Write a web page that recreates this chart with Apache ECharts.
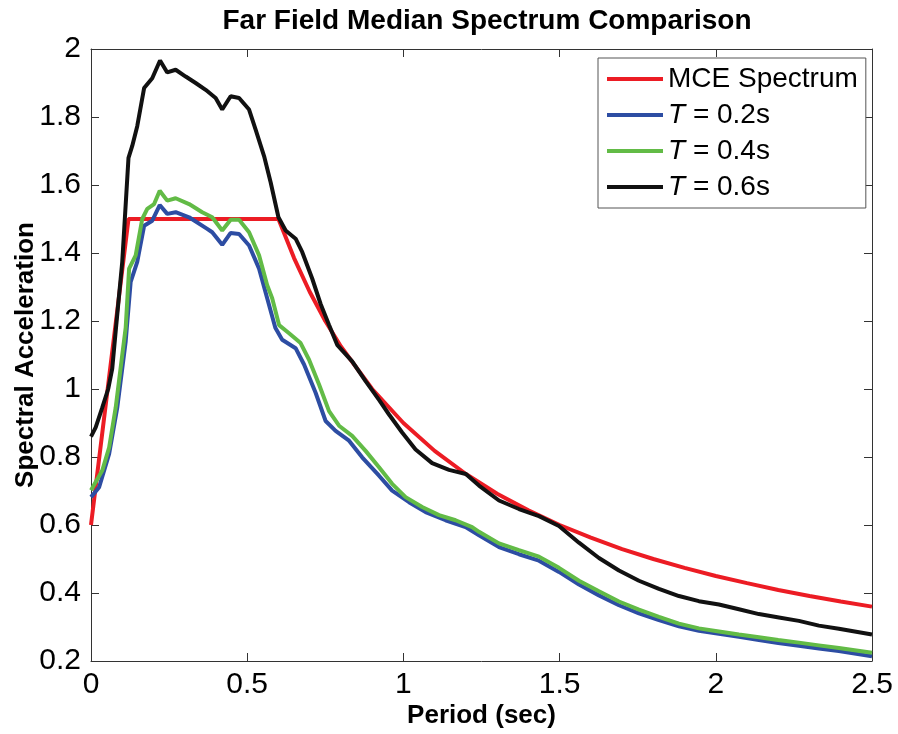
<!DOCTYPE html>
<html>
<head>
<meta charset="utf-8">
<script src="https://cdn.jsdelivr.net/npm/echarts@6/dist/echarts.min.js"></script>
<style>html,body{margin:0;padding:0;background:#fff}#c{width:898px;height:734px}</style>
</head>
<body>
<div id="c"></div>
<script>
var seriesNames = ['MCE Spectrum', 'T = 0.2s', 'T = 0.4s', 'T = 0.6s'];
var xTicks = [0, 0.5, 1, 1.5, 2, 2.5];
var yTicks = [0.2, 0.4, 0.6, 0.8, 1, 1.2, 1.4, 1.6, 1.8, 2];

var mcePeriods = [0, 0.12, 0.6, 0.65, 0.7, 0.75, 0.8, 0.9, 1.0, 1.1, 1.2, 1.3, 1.4, 1.5, 1.6, 1.7, 1.8, 1.9, 2.0, 2.1, 2.2, 2.3, 2.4, 2.5];
var mceValues  = [0.6, 1.5, 1.5, 1.385, 1.286, 1.2, 1.125, 1.0, 0.9, 0.818, 0.75, 0.692, 0.643, 0.6, 0.563, 0.529, 0.5, 0.474, 0.45, 0.429, 0.409, 0.391, 0.375, 0.36];

var t02Periods = [0, 0.026, 0.058, 0.084, 0.111, 0.127, 0.148, 0.17, 0.196, 0.22, 0.244, 0.271, 0.314, 0.372, 0.388, 0.42, 0.447, 0.474, 0.506, 0.538, 0.564, 0.59, 0.612, 0.655, 0.682, 0.719, 0.751, 0.783, 0.826, 0.868, 0.922, 0.964, 1.018, 1.071, 1.135, 1.199, 1.242, 1.306, 1.37, 1.434, 1.498, 1.562, 1.626, 1.69, 1.754, 1.818, 1.882, 1.946, 2.01, 2.074, 2.138, 2.2, 2.266, 2.33, 2.394, 2.5];
var t02Values  = [0.682, 0.711, 0.809, 0.945, 1.14, 1.315, 1.374, 1.48, 1.495, 1.541, 1.515, 1.52, 1.505, 1.471, 1.461, 1.424, 1.459, 1.456, 1.422, 1.354, 1.267, 1.18, 1.145, 1.12, 1.072, 0.989, 0.906, 0.877, 0.848, 0.799, 0.745, 0.701, 0.667, 0.638, 0.614, 0.594, 0.57, 0.535, 0.514, 0.495, 0.462, 0.425, 0.393, 0.364, 0.34, 0.32, 0.302, 0.289, 0.28, 0.271, 0.262, 0.253, 0.245, 0.237, 0.229, 0.214];

var t04Periods = [0, 0.036, 0.058, 0.079, 0.1, 0.111, 0.122, 0.143, 0.164, 0.18, 0.202, 0.22, 0.244, 0.271, 0.314, 0.356, 0.388, 0.42, 0.447, 0.474, 0.506, 0.538, 0.564, 0.58, 0.602, 0.634, 0.671, 0.698, 0.73, 0.762, 0.794, 0.836, 0.879, 0.922, 0.964, 1.007, 1.06, 1.114, 1.167, 1.22, 1.242, 1.306, 1.37, 1.434, 1.498, 1.562, 1.626, 1.69, 1.754, 1.818, 1.882, 1.946, 2.01, 2.074, 2.138, 2.2, 2.266, 2.33, 2.394, 2.5];
var t04Values  = [0.702, 0.76, 0.828, 0.945, 1.1, 1.18, 1.354, 1.393, 1.5, 1.53, 1.544, 1.583, 1.554, 1.561, 1.544, 1.52, 1.505, 1.466, 1.498, 1.498, 1.461, 1.393, 1.305, 1.267, 1.188, 1.164, 1.135, 1.086, 1.013, 0.935, 0.892, 0.862, 0.818, 0.77, 0.721, 0.682, 0.653, 0.629, 0.614, 0.594, 0.58, 0.546, 0.526, 0.507, 0.474, 0.436, 0.405, 0.375, 0.351, 0.33, 0.31, 0.296, 0.287, 0.278, 0.27, 0.262, 0.254, 0.246, 0.238, 0.224];

var t06Periods = [0, 0.015, 0.036, 0.055, 0.068, 0.08, 0.1, 0.12, 0.132, 0.148, 0.17, 0.196, 0.221, 0.244, 0.271, 0.303, 0.335, 0.367, 0.399, 0.42, 0.447, 0.474, 0.506, 0.527, 0.554, 0.575, 0.6, 0.623, 0.655, 0.676, 0.708, 0.735, 0.762, 0.788, 0.836, 0.879, 0.922, 0.954, 0.996, 1.039, 1.092, 1.146, 1.2, 1.242, 1.306, 1.37, 1.434, 1.498, 1.562, 1.626, 1.69, 1.754, 1.818, 1.882, 1.946, 2.01, 2.074, 2.138, 2.202, 2.266, 2.33, 2.394, 2.5];
var t06Values  = [0.86, 0.887, 0.945, 1.0, 1.06, 1.18, 1.374, 1.68, 1.715, 1.773, 1.885, 1.914, 1.966, 1.931, 1.939, 1.919, 1.9, 1.88, 1.856, 1.822, 1.861, 1.856, 1.822, 1.763, 1.685, 1.608, 1.505, 1.466, 1.442, 1.403, 1.325, 1.25, 1.188, 1.13, 1.081, 1.023, 0.968, 0.925, 0.872, 0.822, 0.782, 0.762, 0.75, 0.716, 0.672, 0.647, 0.626, 0.597, 0.548, 0.503, 0.466, 0.436, 0.412, 0.391, 0.376, 0.366, 0.352, 0.338, 0.328, 0.318, 0.304, 0.295, 0.278];

var colors = ['#ec1c24', '#2d4da3', '#62bb46', '#111111'];

function zip(xs, ys) { return xs.map(function (x, i) { return [x, ys[i]]; }); }
var allData = [zip(mcePeriods, mceValues), zip(t02Periods, t02Values), zip(t04Periods, t04Values), zip(t06Periods, t06Values)];

var FONT = '"Liberation Sans", Arial, Helvetica, sans-serif';
var chart = echarts.init(document.getElementById('c'), null, { renderer: 'canvas' });

var axisLineStyle = { color: '#333', width: 1 };
function xAxisDef(pos, showLabel) {
  return {
    type: 'value', position: pos, min: 0, max: 2.5, interval: 0.5,
    axisLine: { show: true, onZero: false, lineStyle: axisLineStyle },
    axisTick: { show: true, inside: true, length: 8, lineStyle: axisLineStyle },
    axisLabel: { show: showLabel, color: '#000', fontSize: 30, fontFamily: FONT, margin: 9 },
    splitLine: { show: false },
    name: showLabel ? 'Period (sec)' : '', nameLocation: 'middle', nameGap: 42,
    nameMoveOverlap: false,
    nameTextStyle: { color: '#000', fontSize: 26, fontWeight: 'bold', fontFamily: FONT }
  };
}
function yAxisDef(pos, showLabel) {
  return {
    type: 'value', position: pos, min: 0.2, max: 2, interval: 0.2,
    axisLine: { show: true, onZero: false, lineStyle: axisLineStyle },
    axisTick: { show: true, inside: true, length: 8, lineStyle: axisLineStyle },
    axisLabel: { show: showLabel, color: '#000', fontSize: 30, fontFamily: FONT, margin: 10 },
    splitLine: { show: false },
    name: showLabel ? 'Spectral Acceleration' : '', nameLocation: 'middle', nameGap: 52,
    nameMoveOverlap: false,
    nameTextStyle: { color: '#000', fontSize: 26, fontWeight: 'bold', fontFamily: FONT }
  };
}

var option = {
  animation: false,
  backgroundColor: '#fff',
  title: {
    text: 'Far Field Median Spectrum Comparison',
    left: 482, top: 2, textAlign: 'center',
    textStyle: { color: '#000', fontSize: 28, fontWeight: 'bold', fontFamily: FONT }
  },
  grid: { left: 91, right: 26, top: 49, bottom: 69, containLabel: false },
  xAxis: [xAxisDef('bottom', true), xAxisDef('top', false)],
  yAxis: [yAxisDef('left', true), yAxisDef('right', false)],
  legend: {
    orient: 'vertical', left: 598, top: 58,
    backgroundColor: '#fff', borderColor: '#555', borderWidth: 1,
    padding: [7, 8, 7, 9], itemGap: 8, itemWidth: 56, itemHeight: 4, icon: 'rect',
    data: seriesNames,
    formatter: function (name) {
      return name.charAt(0) === 'T' ? '{i|T}' + name.slice(1) : name;
    },
    textStyle: {
      color: '#000', fontSize: 28, fontFamily: FONT, lineHeight: 28,
      rich: { i: { fontStyle: 'italic', fontSize: 28, fontFamily: FONT, color: '#000' } }
    }
  },
  series: seriesNames.map(function (n, i) {
    return {
      name: n, type: 'line', xAxisIndex: 0, yAxisIndex: 0,
      data: allData[i], showSymbol: false, symbol: 'none', smooth: false,
      lineStyle: { color: colors[i], width: 4 }, itemStyle: { color: colors[i] },
      z: 2 + i
    };
  })
};
chart.setOption(option);
</script>
</body>
</html>
